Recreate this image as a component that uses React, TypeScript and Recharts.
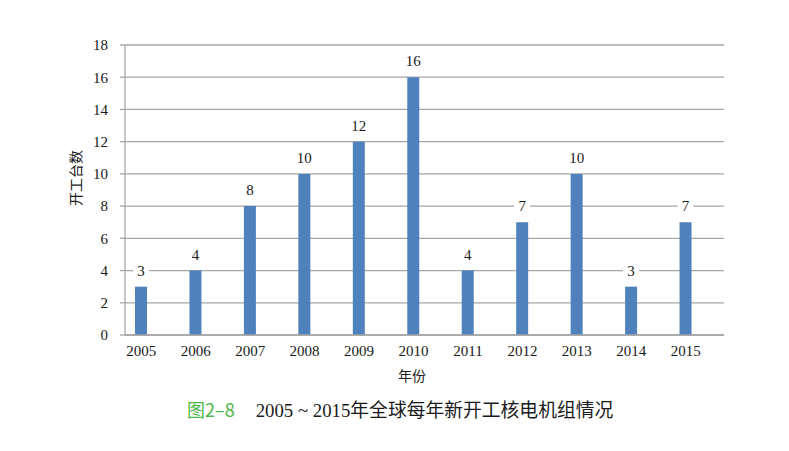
import React from "react";
import { BarChart, Bar, XAxis, YAxis, CartesianGrid, LabelList } from "recharts";

const years = ["2005", "2006", "2007", "2008", "2009", "2010", "2011", "2012", "2013", "2014", "2015"];
const units = [3, 4, 8, 10, 12, 16, 4, 7, 10, 3, 7];
const yTicks = [0, 2, 4, 6, 8, 10, 12, 14, 16, 18];

const data = years.map((y, i) => ({ year: y, units: units[i] }));

const serif = '"Liberation Serif", "Times New Roman", "Noto Sans CJK SC", serif';
const gridColor = "#a6a6a6";

const ValueLabel = (props: any) => {
  const { x, y, width, value } = props;
  const cx = x + width / 2;
  const s = String(value);
  const w = s.length * 8 + 8;
  return (
    <g>
      <rect x={cx - w / 2} y={y - 25} width={w} height={18} fill="#ffffff" />
      <text x={cx} y={y - 11} textAnchor="middle" fontFamily={serif} fontSize={15} fill="#1a1a1a">
        {s}
      </text>
    </g>
  );
};

export default function App() {
  return (
    <div style={{ position: "absolute", left: 0, top: 0, width: 789, height: 451, background: "#fff" }}>
      <BarChart
        width={789}
        height={451}
        data={data}
        margin={{ top: 45, right: 65, bottom: 86, left: 0 }}
      >
        <CartesianGrid vertical={false} stroke={gridColor} strokeWidth={1.3} />
        <XAxis
          dataKey="year"
          padding={{ left: -11, right: 11 }}
          height={30}
          tickLine={false}
          tickSize={0}
          tickMargin={10}
          axisLine={{ stroke: gridColor, strokeWidth: 1.3 }}
          tick={{ fontFamily: serif, fontSize: 15, fill: "#1a1a1a" }}
          interval={0}
        />
        <YAxis
          width={125}
          domain={[0, 18]}
          ticks={yTicks}
          interval={0}
          tickSize={5}
          tickMargin={12}
          tickLine={{ stroke: gridColor, strokeWidth: 1.3 }}
          axisLine={{ stroke: gridColor, strokeWidth: 1.3 }}
          tick={{ fontFamily: serif, fontSize: 15, fill: "#1a1a1a" }}
        />
        <Bar dataKey="units" fill="#4f81bd" barSize={12} isAnimationActive={false}>
          <LabelList dataKey="units" content={<ValueLabel />} />
        </Bar>
      </BarChart>
      <div
        style={{
          position: "absolute",
          left: 75,
          top: 178,
          transform: "translate(-50%, -50%) rotate(-90deg)",
          fontFamily: serif,
          fontSize: 14,
          color: "#1a1a1a",
          whiteSpace: "nowrap",
        }}
      >
        开工台数
      </div>
      <div
        style={{
          position: "absolute",
          left: 412,
          top: 375,
          transform: "translate(-50%, -50%)",
          fontFamily: serif,
          fontSize: 14,
          color: "#1a1a1a",
          whiteSpace: "nowrap",
        }}
      >
        年份
      </div>
      <div
        style={{
          position: "absolute",
          left: 187,
          top: 410,
          transform: "translateY(-50%)",
          whiteSpace: "nowrap",
          lineHeight: 1,
        }}
      >
        <span style={{ fontFamily: '"Noto Sans CJK SC", "Noto Sans", sans-serif', color: "#4db848", fontSize: 18 }}>图2–8</span>
        <span style={{ display: "inline-block", width: 21 }} />
        <span style={{ fontFamily: serif, color: "#1a1a1a", fontSize: 18.8 }}>2005 ~ 2015年全球每年新开工核电机组情况</span>
      </div>
    </div>
  );
}
